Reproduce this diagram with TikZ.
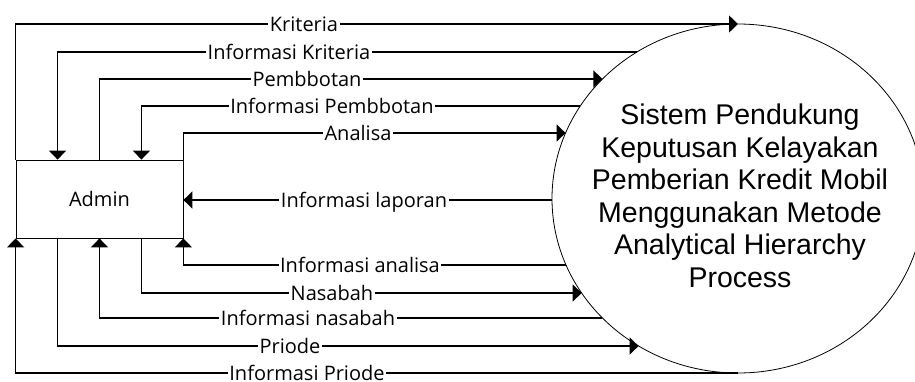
\documentclass[tikz,border=0pt]{standalone}
\usepackage{fontspec}
\setmainfont{Open Sans}
\newfontfamily\arialfont{Liberation Sans}
\usetikzlibrary{arrows.meta,calc,shapes.geometric}
\newcommand\exx[1]{738-186*sqrt(max(0,1-((#1-198.5)/174.5)^2))}
\begin{document}
\begin{tikzpicture}[x=1pt,y=-1pt,
  flow/.style={line width=1.5pt},
  arr/.style={flow,-{Triangle[length=9pt,width=17pt]}},
  lbl/.style={fill=white,inner sep=1.5pt,font=\fontsize{20}{24}\selectfont,text height=14pt,text depth=0pt},
  box/.style={draw,line width=0.8pt,minimum width=167pt,minimum height=78pt,inner sep=0pt,font=\fontsize{20}{24}\selectfont}]
\fill[white] (0,0) rectangle (915,381);
\useasboundingbox (0,0) rectangle (915,381);

\node[box] (admin) at (99.5,199) {Admin};
\node[draw,ellipse,line width=0.8pt,minimum width=372pt,minimum height=349pt,inner sep=0pt] (sys) at (738,198.5) {};
\node[font=\arialfont\fontsize{28.5}{32.5}\selectfont,align=center] (systxt) at (740,196)
  {Sistem Pendukung\\Keputusan Kelayakan\\Pemberian Kredit Mobil\\Menggunakan Metode\\Analytical Hierarchy\\Process};

\coordinate (t1) at ($(admin.north west)!.25!(admin.north east)$);
\coordinate (t2) at ($(admin.north west)!.5!(admin.north east)$);
\coordinate (t3) at ($(admin.north west)!.75!(admin.north east)$);
\coordinate (b1) at ($(admin.south west)!.25!(admin.south east)$);
\coordinate (b2) at ($(admin.south west)!.5!(admin.south east)$);
\coordinate (b3) at ($(admin.south west)!.75!(admin.south east)$);

\coordinate (e1) at ({\exx{24}},24);
\coordinate (e2) at ({\exx{52}},52);
\coordinate (e3) at ({\exx{79}},79);
\coordinate (e4) at ({\exx{106}},106);
\coordinate (e5) at ({\exx{133}},133);
\coordinate (e6) at ({\exx{200}},200);
\coordinate (e7) at ({\exx{265}},265);
\coordinate (e8) at ({\exx{293}},293);
\coordinate (e9) at ({\exx{318}},318);
\coordinate (e10) at ({\exx{346}},346);
\coordinate (e11) at ({\exx{373}},373);

\draw[arr] (admin.north west) |- (e1);
\draw[arr] (e2) -| (t1);
\draw[arr] (t2) |- (e3);
\draw[arr] (e4) -| (t3);
\draw[arr] (admin.north east) |- (e5);
\draw[arr] (e6) -- (e6 -| admin.east);
\draw[arr] (e7) -| (admin.south east);
\draw[arr] (b3) |- (e8);
\draw[arr] (e9) -| (b2);
\draw[arr] (b1) |- (e10);
\draw[arr] (e11) -| (admin.south west);

\node[lbl] (l1) at (304,24) {Kriteria};
\node[lbl] (l2) at (289,52) {Informasi Kriteria};
\node[lbl] (l3) at (307,79) {Pembbotan};
\node[lbl] (l4) at (332,106) {Informasi Pembbotan};
\node[lbl] (l5) at (358,133) {Analisa};
\node[lbl] (l6) at (364,200) {Informasi laporan};
\node[lbl] (l7) at (360,265) {Informasi analisa};
\node[lbl] (l8) at (332,293) {Nasabah};
\node[lbl] (l9) at (308,318) {Informasi nasabah};
\node[lbl] (l10) at (290,346) {Priode};
\node[lbl] (l11) at (307,373) {Informasi Priode};
\end{tikzpicture}
\end{document}
